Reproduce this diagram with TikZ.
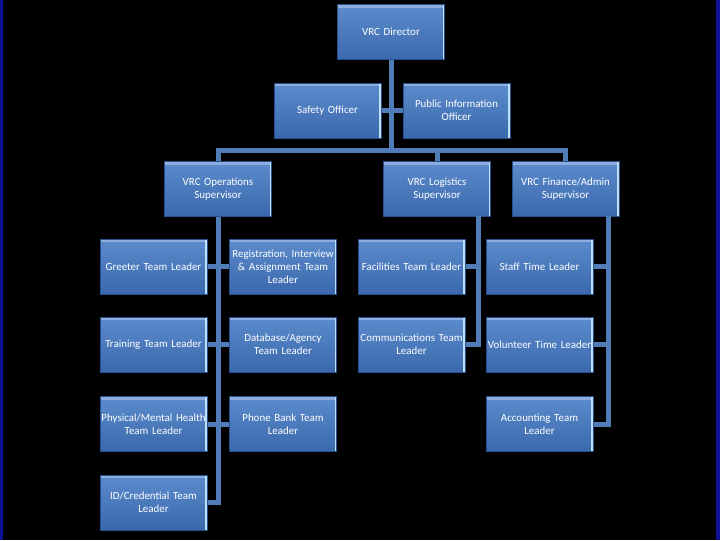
\documentclass[tikz,border=0pt]{standalone}
\usepackage{fontspec}
\setmainfont{Carlito}
\definecolor{boxtop}{RGB}{92,140,205}
\definecolor{boxbot}{RGB}{58,104,172}
\definecolor{boxrim}{RGB}{40,78,140}
\definecolor{boxshine}{RGB}{190,225,250}
\definecolor{linkblue}{RGB}{80,124,184}
\definecolor{edgeblue}{RGB}{16,16,150}
\newcommand{\wideline}[1]{\makebox[0pt]{#1}}
\tikzset{every picture/.style={line width=0.75pt}}
\tikzset{
  orgbox/.style={draw=boxrim, top color=boxtop, bottom color=boxbot,
    minimum width=80.25pt, minimum height=41.25pt, text width=76pt,
    align=center, inner sep=1pt, text=white,
    font=\fontsize{8.2}{9.8}\selectfont,
    path picture={
      \fill[boxtop!70!white] (path picture bounding box.north west) rectangle ([yshift=-2.5pt]path picture bounding box.north east);
      \draw[boxshine, line width=1.5pt] ([xshift=-0.75pt]path picture bounding box.north east) -- ([xshift=-0.75pt]path picture bounding box.south east);}},
  link/.style={draw=linkblue, line width=3.75pt}
}

\begin{document}
\begin{tikzpicture}[x=0.75pt,y=0.75pt,yscale=-1,xscale=1]
\useasboundingbox (0,0) rectangle (720,540);
% backdrop
\fill[black] (0,0) rectangle (720,540);
\fill[edgeblue] (0,0) rectangle (3,540);
\fill[edgeblue] (716,0) rectangle (720,540);

% top level
\node[orgbox] (dir) at (391,32) {VRC Director};
\node[orgbox] (safe) at (327.5,110.5) {Safety Officer};
\node[orgbox] (pio) at (456.5,110.5) {Public Information\\Officer};

% supervisors
\node[orgbox] (ops) at (218,189) {VRC Operations\\Supervisor};
\node[orgbox] (log) at (437,189) {VRC Logistics\\Supervisor};
\node[orgbox] (fin) at (565.5,189) {VRC Finance/Admin\\Supervisor};

% operations team leaders
\node[orgbox] (greet) at (153.5,266.5) {\wideline{Greeter Team Leader}};
\node[orgbox] (reg) at (283,266.5) {\wideline{Registration, Interview}\\\& Assignment Team\\Leader};
\node[orgbox] (train) at (153.5,344.5) {\wideline{Training Team Leader}};
\node[orgbox] (dbase) at (283,344.5) {Database/Agency\\Team Leader};
\node[orgbox] (phys) at (153.5,424) {\wideline{Physical/Mental Health}\\Team Leader};
\node[orgbox] (phone) at (283,424) {Phone Bank Team\\Leader};
\node[orgbox] (idc) at (153.5,502.5) {ID/Credential Team\\Leader};

% logistics team leaders
\node[orgbox] (fac) at (411.5,266.5) {\wideline{Facilities Team Leader}};
\node[orgbox] (comm) at (411.5,344.5) {\wideline{Communications Team}\\Leader};

% finance team leaders
\node[orgbox] (staff) at (539.5,266.5) {Staff Time Leader};
\node[orgbox] (vol) at (539.5,344.5) {\wideline{Volunteer Time Leader}};
\node[orgbox] (acct) at (539.5,424) {Accounting Team\\Leader};

% connectors
\coordinate (bar) at (391,150);
\coordinate (logdown) at (478,216);
\coordinate (findown) at (608,216);
\draw[link] (dir.south) -- (bar);
\draw[link] (safe.east) -- (pio.west);
\draw[link] (ops.north) |- (bar) -| (fin.north);
\draw[link] (log.north) -- (log.north |- bar);
\draw[link] (ops.south) |- (idc.east);
\draw[link] (greet.east) -- (reg.west);
\draw[link] (train.east) -- (dbase.west);
\draw[link] (phys.east) -- (phone.west);
\draw[link] (logdown) |- (comm.east);
\draw[link] (fac.east) -- (fac.east -| logdown);
\draw[link] (findown) |- (acct.east);
\draw[link] (staff.east) -- (staff.east -| findown);
\draw[link] (vol.east) -- (vol.east -| findown);

\end{tikzpicture}
\end{document}
